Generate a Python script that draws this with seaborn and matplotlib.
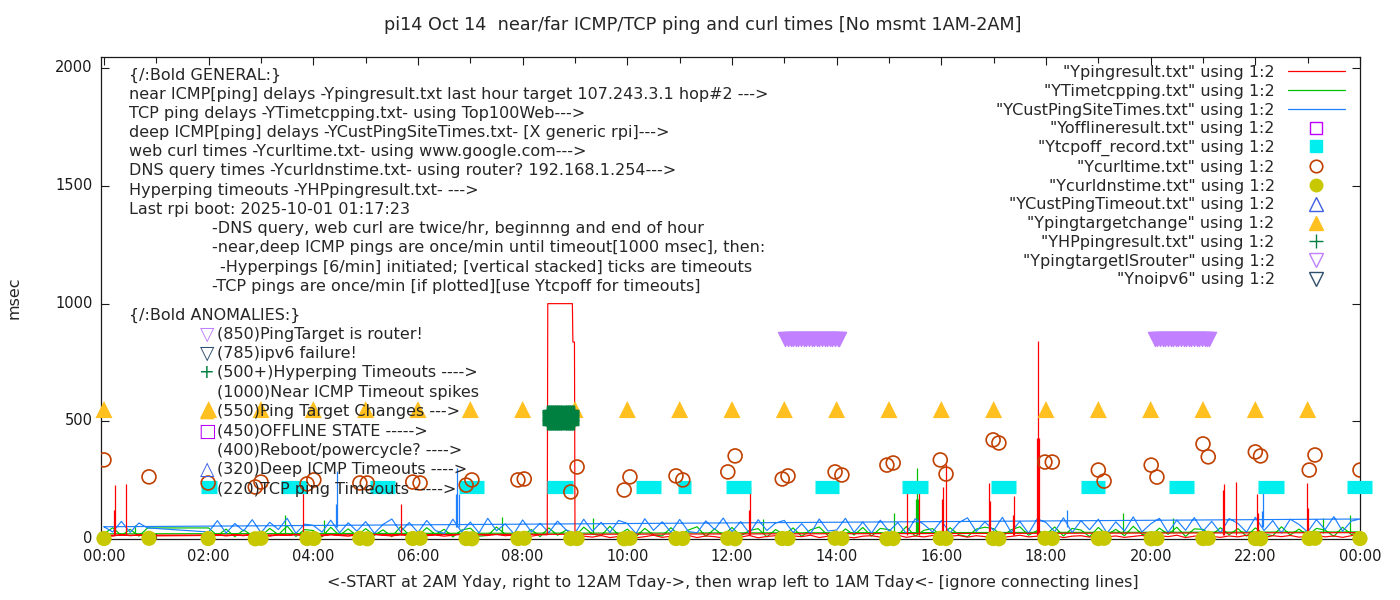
import numpy as np
import matplotlib
matplotlib.use("Agg")
import matplotlib.pyplot as plt
import matplotlib.transforms as mtransforms
from matplotlib.lines import Line2D
import seaborn as sns

title = "pi14 Oct 14  near/far ICMP/TCP ping and curl times [No msmt 1AM-2AM]"
xlabel = "<-START at 2AM Yday, right to 12AM Tday->, then wrap left to 1AM Tday<- [ignore connecting lines]"
ylabel = "msec"

tick_hours = [0, 2, 4, 6, 8, 10, 12, 14, 16, 18, 20, 22, 24]
tick_labels = ["00:00", "02:00", "04:00", "06:00", "08:00", "10:00", "12:00",
               "14:00", "16:00", "18:00", "20:00", "22:00", "00:00"]

# 10 minute samples: Tday 00:00-00:50, Yday 02:00-24:00 (no msmt 1AM-2AM)
early_t = [0.0, 0.167, 0.333, 0.5, 0.667, 0.833]
late_t = np.round(np.arange(12, 145) / 6, 3)

# near ICMP ping (red)
red_early = [16, 12, 19, 14, 17, 13]
red_late = [
    [15, 18, 13, 17, 14, 19], [16, 12, 18, 15, 20, 14], [17, 13, 19, 15, 12, 18],
    [14, 20, 16, 13, 18, 15], [19, 14, 17, 12, 16, 20], [13, 18, 15, 19, 14, 17],
    [16, 12, 18, 1000, 1000, 1000], [20, 12, 8, 15, 6, 11], [14, 5, 10, 16, 7, 12],
    [9, 15, 6, 13, 10, 4], [12, 8, 15, 5, 11, 14], [7, 13, 10, 16, 6, 12],
    [15, 9, 5, 12, 14, 8], [11, 16, 7, 13, 9, 15], [6, 12, 15, 8, 14, 10],
    [13, 7, 11, 16, 9, 12], [10, 15, 6, 12, 14, 8], [16, 9, 13, 7, 11, 15],
    [8, 14, 10, 16, 6, 12], [15, 11, 7, 13, 9, 16], [12, 6, 14, 10, 15, 8],
    [11, 16, 9, 13, 7, 14], [27]]
# timeout episode around 08:30
red_to_t = [8.47, 8.48, 8.95, 8.96, 8.99]
red_to_v = [18, 1000, 1000, 837, 837]
red_spike_t = [0.20, 0.22, 0.42, 3.80, 5.68, 12.33, 12.35, 15.35, 15.58, 16.01, 16.03,
               16.09, 16.91, 16.93, 17.37, 17.39, 17.83, 17.85, 17.87, 21.38, 21.40,
               21.63, 22.03, 22.05, 22.99, 23.01]
red_spike_v = [123, 230, 234, 200, 149, 123, 222, 195, 195, 170, 222, 319, 238, 160,
               102, 183, 429, 841, 429, 208, 234, 242, 191, 110, 238, 130]

# TCP ping (green)
green_early = [22, 48, 15, 41, 12, 47]
green_late = [
    [47, 14, 42, 10, 38, 16], [12, 45, 18, 55, 11, 40], [36, 9, 50, 15, 43, 13],
    [44, 16, 39, 10, 52, 17], [14, 48, 19, 41, 9, 38], [46, 12, 15, 51, 20, 13],
    [17, 40, 10, 47, 16, 38], [11, 50, 21, 14, 54, 18], [42, 10, 45, 17, 13, 48],
    [15, 38, 52, 11, 43, 14], [49, 13, 36, 44, 9, 40], [18, 47, 11, 39, 51, 15],
    [10, 43, 17, 49, 12, 45], [40, 15, 53, 12, 37, 44], [13, 48, 18, 10, 42, 50],
    [44, 11, 39, 52, 16, 36], [19, 51, 13, 45, 38, 10], [49, 17, 41, 14, 54, 20],
    [12, 46, 20, 50, 11, 43], [41, 16, 48, 18, 44, 12], [47, 21, 14, 52, 17, 42],
    [15, 45, 38, 11, 50, 19], [30]]
green_spike_t = [0.60, 3.45, 4.20, 7.60, 9.35, 12.60, 15.10, 15.52, 15.54, 15.56,
                 19.47, 20.43, 23.29, 23.80]
green_spike_v = [60, 102, 80, 95, 89, 85, 110, 170, 300, 170, 110, 89, 89, 100]

# deep ICMP ping (blue)
blue_early = [52, 30, 75, 28, 68, 47]
blue_late = [
    [30, 78, 25, 66, 34, 82], [27, 71, 40, 88, 24, 63], [58, 29, 80, 26, 69, 33],
    [74, 24, 62, 85, 31, 70], [28, 79, 36, 23, 84, 30], [72, 26, 88, 35, 64, 22],
    [81, 30, 67, 27, 76, 38], [25, 84, 33, 71, 28, 79], [66, 23, 86, 37, 73, 29],
    [83, 32, 26, 77, 40, 89], [31, 74, 24, 82, 36, 68], [79, 27, 65, 22, 85, 34],
    [38, 88, 28, 72, 25, 80], [33, 70, 23, 86, 62, 30], [78, 26, 69, 90, 32, 73],
    [36, 92, 29, 75, 24, 86], [70, 31, 90, 27, 78, 39], [84, 25, 73, 34, 94, 30],
    [64, 88, 28, 80, 37, 91], [33, 75, 26, 87, 66, 29], [92, 36, 78, 25, 84, 62],
    [30, 82, 40, 95, 33, 76], [85]]
blue_spike_t = [4.43, 4.45, 6.73, 6.75, 6.79, 18.40, 22.13, 22.15]
blue_spike_v = [150, 290, 190, 300, 190, 123, 120, 195]

# web curl times
curl_t = [0.0, 0.86, 1.99, 2.89, 3.0, 3.88, 4.01, 4.89, 5.03, 5.9, 6.04, 6.92, 7.03,
          7.91, 8.03, 8.92, 9.04, 9.94, 10.05, 10.93, 11.06, 11.92, 12.06, 12.96,
          13.07, 13.97, 14.1, 14.96, 15.08, 15.98, 16.09, 16.99, 17.1, 17.98, 18.12,
          19.0, 19.11, 20.01, 20.12, 21.0, 21.1, 22.0, 22.1, 23.03, 23.14, 24.0]
curl_v = [336, 264, 238, 221, 242, 234, 251, 238, 238, 242, 238, 229, 251, 251, 255,
          200, 306, 208, 264, 268, 251, 285, 353, 255, 268, 285, 272, 314, 323, 336,
          276, 421, 408, 327, 327, 293, 246, 314, 263, 404, 349, 370, 353, 293, 357, 293]
# DNS query times (same schedule as curl)
dns_v = [2, 3, 2, 1, 3, 2, 2, 3, 1, 2, 3, 2, 1, 2, 3, 2, 2, 1, 3, 2, 2, 3, 1, 2, 2,
         3, 2, 1, 2, 3, 2, 2, 1, 3, 2, 2, 3, 1, 2, 2, 3, 2, 1, 2, 3, 2]

# ping target changes
target_t = [0, 2, 3, 4, 5, 6, 7, 8, 9, 10, 11, 12, 13, 14, 15, 16, 17, 18, 19, 20,
            21, 22, 23]
target_v = 550

# TCP ping timeouts (Ytcpoff), start/end hours
tcpoff_start = [1.85, 3.38, 5.08, 6.78, 8.47, 10.17, 10.97, 11.89, 13.58, 15.25,
                16.95, 18.67, 20.35, 22.05, 23.75]
tcpoff_end = [2.16, 3.88, 5.56, 7.26, 8.96, 10.64, 11.22, 12.36, 14.05, 15.75,
              17.43, 19.13, 20.83, 22.55, 24.22]
tcpoff_v = 220

# Hyperping timeouts burst
hp_t = [8.48, 8.52, 8.56, 8.60, 8.64, 8.68, 8.72, 8.76, 8.80, 8.84, 8.88, 8.92, 8.96]
hp_levels = [490, 501, 512, 523, 534, 545]

# ping target is router
router_t = [13.02, 13.07, 13.12, 13.17, 13.22, 13.27, 13.32, 13.37, 13.42, 13.47,
            13.52, 13.57, 13.62, 13.67, 13.72, 13.77, 13.82, 13.87, 13.92, 13.97,
            14.02, 14.05,
            20.08, 20.13, 20.18, 20.23, 20.28, 20.33, 20.38, 20.43, 20.48, 20.53,
            20.58, 20.63, 20.68, 20.73, 20.78, 20.83, 20.88, 20.93, 20.98, 21.03,
            21.08, 21.12]
router_v = 850

general_lines = [
    (129, "{/:Bold GENERAL:}"),
    (129, "near ICMP[ping] delays -Ypingresult.txt last hour target 107.243.3.1 hop#2 --->"),
    (129, "TCP ping delays -YTimetcpping.txt- using Top100Web--->"),
    (129, "deep ICMP[ping] delays -YCustPingSiteTimes.txt- [X generic rpi]--->"),
    (129, "web curl times -Ycurltime.txt- using www.google.com--->"),
    (129, "DNS query times -Ycurldnstime.txt- using router? 192.168.1.254--->"),
    (129, "Hyperping timeouts -YHPpingresult.txt- --->"),
    (129, "Last rpi boot: 2025-10-01 01:17:23"),
    (212, "-DNS query, web curl are twice/hr, beginnng and end of hour"),
    (212, "-near,deep ICMP pings are once/min until timeout[1000 msec], then:"),
    (220, "-Hyperpings [6/min] initiated; [vertical stacked] ticks are timeouts"),
    (212, "-TCP pings are once/min [if plotted][use Ytcpoff for timeouts]"),
]
anomaly_lines = [
    ("\u25BD", "#c080ff", "(850)PingTarget is router!"),
    ("\u25BD", "#2f4f6f", "(785)ipv6 failure!"),
    ("+", "#008040", "(500+)Hyperping Timeouts ---->"),
    ("", "k", "(1000)Near ICMP Timeout spikes"),
    ("\u25B2", "#ffc020", "(550)Ping Target Changes --->"),
    ("\u25A1", "#c000ff", "(450)OFFLINE STATE ----->"),
    ("", "k", "(400)Reboot/powercycle? ---->"),
    ("\u25B3", "#4060e0", "(320)Deep ICMP Timeouts ---->"),
    ("", "k", "(220)TCP ping Timeouts ----->"),
]

RED, GREEN, BLUE = "#ff0000", "#00c000", "#1e80ff"
FS = 11.5


def build(early_v, late_rows, extra_t=(), extra_v=()):
    late_v = [v for row in late_rows for v in row]
    t = np.concatenate([late_t, extra_t])
    v = np.concatenate([late_v, extra_v])
    order = np.argsort(t, kind="stable")
    # Tday first, then Yday, then the wrap back to 00:00
    t_all = np.concatenate([early_t, t[order], early_t[:1]])
    v_all = np.concatenate([early_v, v[order], early_v[:1]])
    return t_all, v_all


sns.set_theme(style="ticks")
plt.rcParams["font.family"] = ["DejaVu Sans"]

W, H = 1400, 600
fig = plt.figure(figsize=(14, 6), dpi=100)
ax = fig.add_axes([101 / W, 1 - 539 / H, 1259 / W, 482 / H])

for (early_v, late_rows, ex_t, ex_v, sp_t, sp_v, base, col) in [
        (green_early, green_late, (), (), green_spike_t, green_spike_v, 25, GREEN),
        (blue_early, blue_late, (), (), blue_spike_t, blue_spike_v, 50, BLUE),
        (red_early, red_late, red_to_t, red_to_v, red_spike_t, red_spike_v, 15, RED)]:
    t, v = build(early_v, late_rows, ex_t, ex_v)
    sns.lineplot(x=t, y=v, sort=False, estimator=None, color=col, lw=0.85,
                 legend=False, ax=ax)
    ax.vlines(sp_t, base, sp_v, color=col, lw=0.9)

ax.hlines([tcpoff_v] * len(tcpoff_start), tcpoff_start, tcpoff_end,
          color="#00eeee", lw=9.5, clip_on=False, zorder=3)
sns.scatterplot(x=curl_t, y=curl_v, marker="o", s=100, facecolor="none",
                edgecolor="#c04000", linewidth=1.2, ax=ax, zorder=4)
sns.scatterplot(x=curl_t, y=dns_v, marker="o", s=120, color="#c8c800",
                edgecolor="none", clip_on=False, ax=ax, zorder=4)
sns.scatterplot(x=target_t, y=[target_v] * len(target_t), marker="^", s=150,
                color="#ffc020", edgecolor="none", clip_on=False, ax=ax, zorder=4)
sns.scatterplot(x=router_t, y=[router_v] * len(router_t), marker="v", s=105,
                color="#c080ff", edgecolor="#c080ff", linewidth=0.9, ax=ax, zorder=4)
for lvl in hp_levels:
    ax.plot(hp_t, [lvl] * len(hp_t), "+", color="#008040", ms=9, mew=2.5, zorder=5)

ax.set_xlim(-0.057, 24)
ax.set_ylim(0, 2048)
ax.set_xticks(tick_hours)
ax.set_xticklabels(tick_labels)
ax.set_yticks([0, 500, 1000, 1500, 2000])
ax.set_xticks(range(0, 25), minor=True)
ax.tick_params(which="both", direction="in", top=True, right=True, labelsize=10.5,
               width=0.8, colors="k")
ax.tick_params(which="major", length=6)
ax.tick_params(which="minor", length=4)
ax.tick_params(axis="x", pad=7)
ax.tick_params(axis="y", pad=6)
lift = mtransforms.ScaledTranslation(0, 2 / 100, fig.dpi_scale_trans)
for lbl in ax.get_yticklabels():
    lbl.set_transform(lbl.get_transform() + lift)
for s in ax.spines.values():
    s.set_linewidth(0.9)
    s.set_color("k")

fig.text(703 / W, 1 - 25 / H, title, ha="center", va="center", fontsize=12.7)
fig.text(733 / W, 1 - 583 / H, xlabel, ha="center", va="center", fontsize=FS)
fig.text(14 / W, 1 - 298 / H, ylabel, ha="center", va="center", rotation=90, fontsize=FS)

for i, (x, txt) in enumerate(general_lines):
    fig.text(x / W, 1 - (75 + 19.2 * i) / H, txt, ha="left", va="center", fontsize=FS)
fig.text(129 / W, 1 - 315 / H, "{/:Bold ANOMALIES:}", ha="left", va="center", fontsize=FS)
for i, (sym, col, txt) in enumerate(anomaly_lines):
    y = 1 - (334 + 19.4 * i) / H
    if sym:
        fig.text(207 / W, y, sym, ha="center", va="center", fontsize=13.5, color=col)
    fig.text(217 / W, y, txt, ha="left", va="center", fontsize=FS)

handles = [
    Line2D([], [], color=RED, lw=0.9),
    Line2D([], [], color=GREEN, lw=0.9),
    Line2D([], [], color=BLUE, lw=0.9),
    Line2D([], [], ls="", marker="s", ms=9, mfc="none", mec="#c000ff", mew=1),
    Line2D([], [], ls="", marker="s", ms=9, mfc="#00eeee", mec="#00eeee"),
    Line2D([], [], ls="", marker="o", ms=9, mfc="none", mec="#c04000", mew=1.2),
    Line2D([], [], ls="", marker="o", ms=9, mfc="#c8c800", mec="#c8c800"),
    Line2D([], [], ls="", marker="^", ms=10, mfc="none", mec="#4060e0", mew=1),
    Line2D([], [], ls="", marker="^", ms=10, mfc="#ffc020", mec="#ffc020"),
    Line2D([], [], ls="", marker="+", ms=10, mec="#008040", mew=1),
    Line2D([], [], ls="", marker="v", ms=10, mfc="none", mec="#c080ff", mew=1),
    Line2D([], [], ls="", marker="v", ms=10, mfc="none", mec="#2f4f6f", mew=1),
]
labels = ['"Ypingresult.txt" using 1:2', '"YTimetcpping.txt" using 1:2',
          '"YCustPingSiteTimes.txt" using 1:2', '"Yofflineresult.txt" using 1:2',
          '"Ytcpoff_record.txt" using 1:2', '"Ycurltime.txt" using 1:2',
          '"Ycurldnstime.txt" using 1:2', '"YCustPingTimeout.txt" using 1:2',
          '"Ypingtargetchange" using 1:2', '"YHPpingresult.txt" using 1:2',
          '"YpingtargetISrouter" using 1:2', '"Ynoipv6" using 1:2']
ax.legend(handles, labels, loc="upper right", bbox_to_anchor=(1 - 15 / 1259, 1 - 8 / 482),
          frameon=False, markerfirst=False, fontsize=FS, handlelength=3.6,
          handletextpad=0.8, labelspacing=0.235, borderpad=0, borderaxespad=0)

fig.savefig("out.png", dpi=100)
